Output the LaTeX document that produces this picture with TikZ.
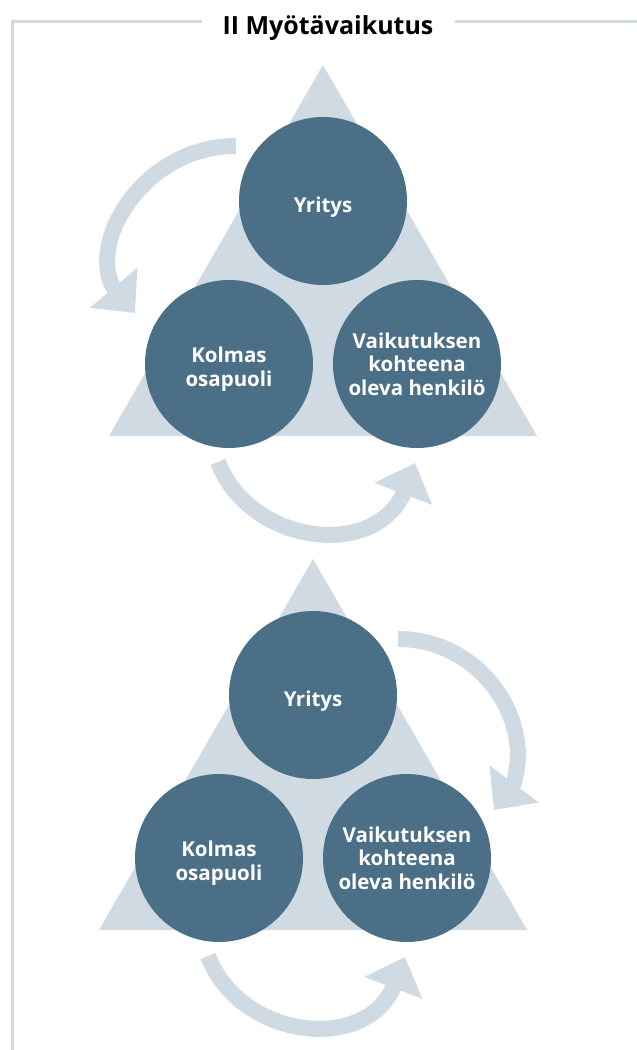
\documentclass[tikz,border=0pt]{standalone}
\usepackage{fontspec}
\setmainfont{Open Sans}
\usetikzlibrary{arrows.meta}
\usetikzlibrary{positioning}

\definecolor{partyblue}{HTML}{4A6F87}
\definecolor{paleblue}{HTML}{CFDAE2}

\tikzset{
	party/.style={circle,fill=partyblue,minimum size=168pt,inner sep=0pt},
	partytext/.style={align=center,text=white,font=\bfseries\fontsize{20.5}{23.5}\selectfont},
	cyclearrow/.style={draw=paleblue,line width=16pt,line join=round,-{Triangle[width=60pt,length=33pt]}},
	frameline/.style={draw=paleblue,line width=3pt}
}

\begin{document}
\begin{tikzpicture}[x=1pt,y=-1pt]
	\useasboundingbox (0,0) rectangle (637,1050);
	
	\node[anchor=base,font=\bfseries\fontsize{25}{29}\selectfont] (title) at (328,34) {II Myötävaikutus};
	\draw[frameline] (202,21) -- (12,21) -- (12,1050);
	\draw[frameline] (455,21) -- (637,21);
	
	% upper triangle
	\fill[paleblue] (323,65) -- (537,436) -- (109,436) -- cycle;
	\node[party,label={[partytext,yshift=-6pt]center:Yritys}] (yritys a) at (323,201) {};
	\node[party,label={[partytext,yshift=-5pt]center:{Kolmas\\osapuoli}}] (kolmas a) at (229,364) {};
	\node[party,label={[partytext]center:{Vaikutuksen\\kohteena\\oleva henkilö}}] (kohde a) at (417,364) {};
	
	\coordinate (p) at (236,146);
	\coordinate (q) at (113,287);
	\coordinate (q tip) at (135,313);
	\draw[cyclearrow] (p) .. controls (145,146) and (88,240) .. (q) -- (q tip);
	
	\coordinate (r) at (218,462);
	\coordinate (s) at (404,492);
	\coordinate (s tip) at (415,463);
	\draw[cyclearrow] (r) .. controls (250,545) and (375,560) .. (s) -- (s tip);
	
	% lower triangle
	\begin{scope}[shift={(-10,494)}]
		\fill[paleblue] (323,65) -- (537,436) -- (109,436) -- cycle;
		\node[party,label={[partytext,yshift=-6pt]center:Yritys}] (yritys b) at (323,201) {};
		\node[party,label={[partytext,yshift=-5pt]center:{Kolmas\\osapuoli}}] (kolmas b) at (229,364) {};
		\node[party,label={[partytext]center:{Vaikutuksen\\kohteena\\oleva henkilö}}] (kohde b) at (417,364) {};
		
		\coordinate (p) at (408,145);
		\coordinate (q) at (523,291);
		\coordinate (q tip) at (504,316);
		\draw[cyclearrow] (p) .. controls (490,145) and (545,226) .. (q) -- (q tip);
		
		\coordinate (r) at (218,462);
		\coordinate (s) at (404,492);
		\coordinate (s tip) at (415,463);
		\draw[cyclearrow] (r) .. controls (250,545) and (375,560) .. (s) -- (s tip);
	\end{scope}
\end{tikzpicture}
\end{document}
